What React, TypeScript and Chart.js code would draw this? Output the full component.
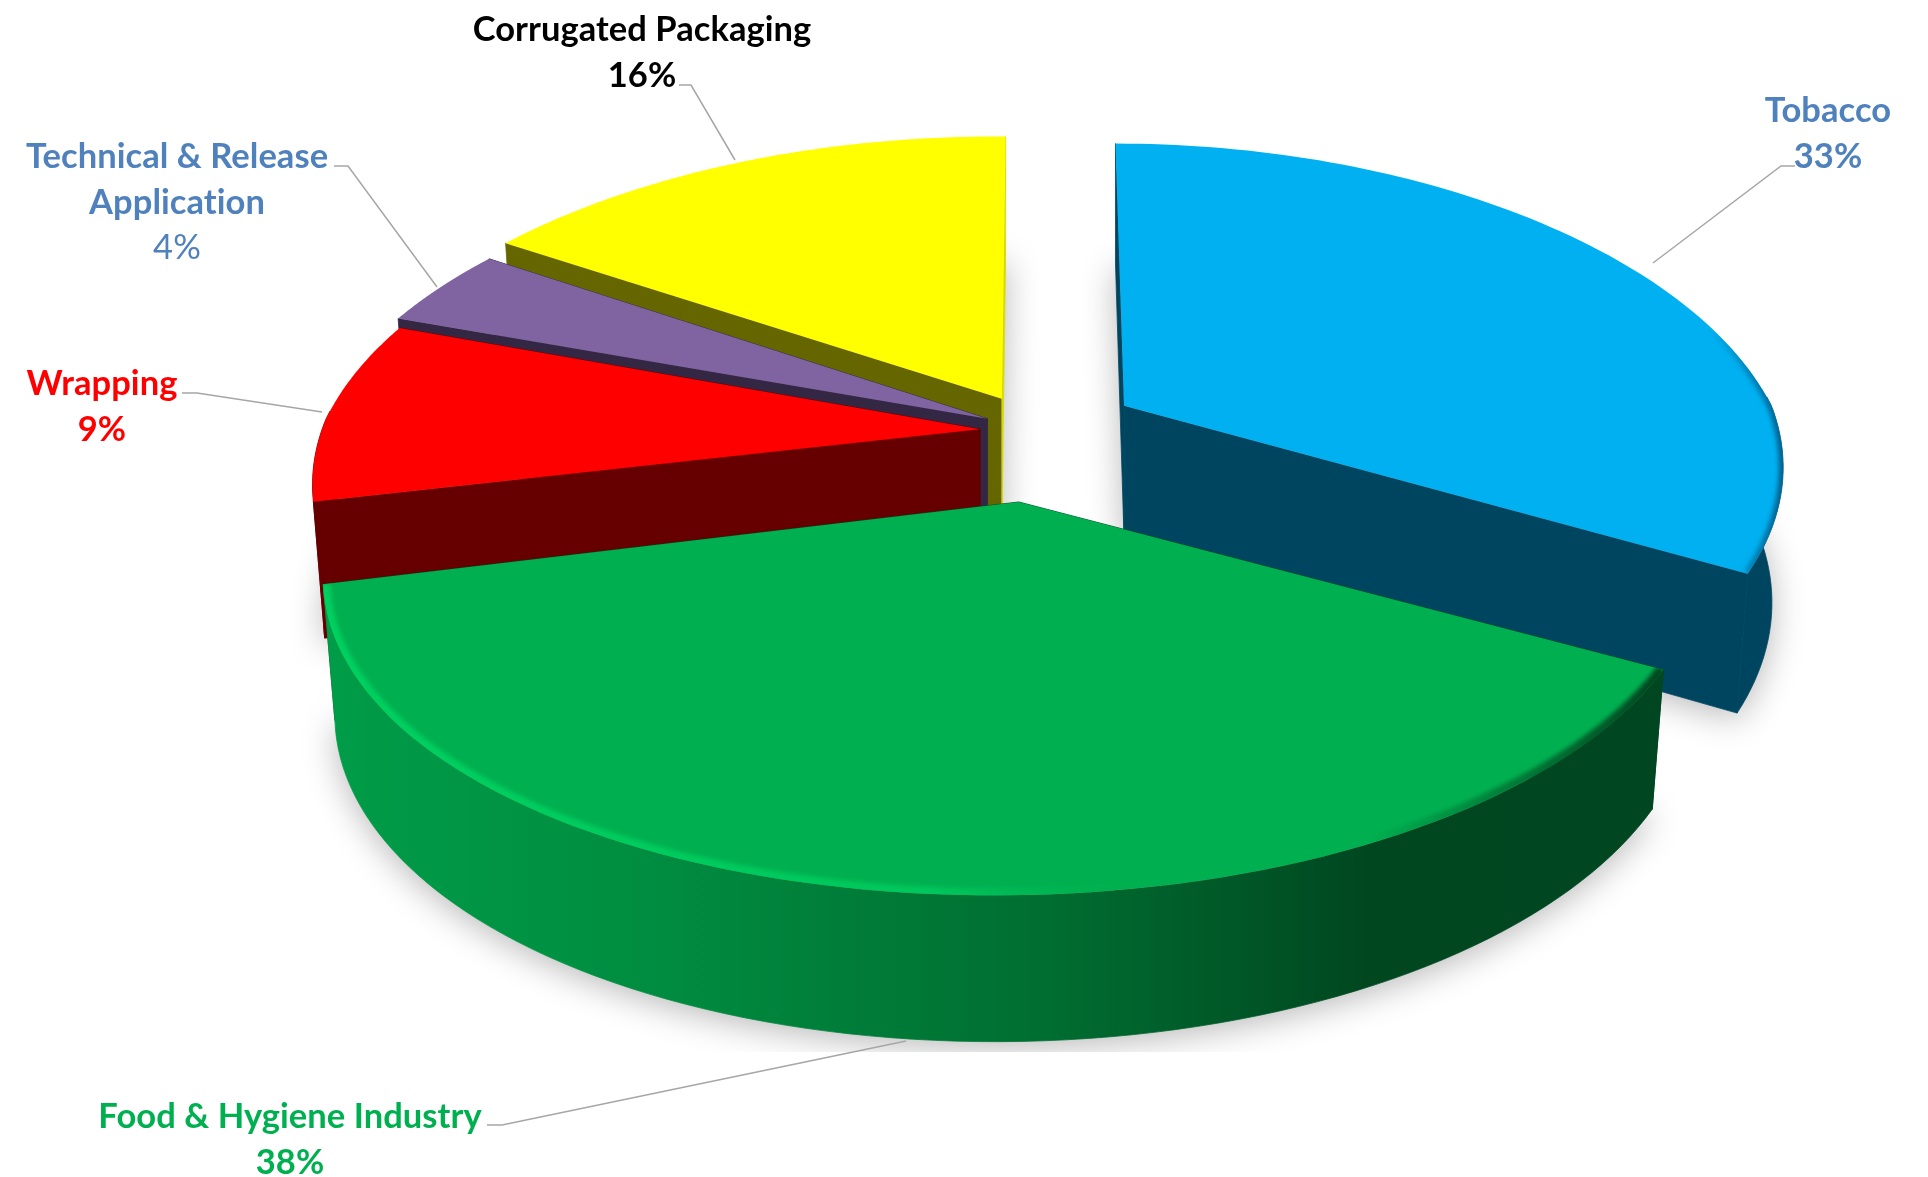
import React, { useEffect, useRef } from "react";
import { Chart, registerables } from "chart.js";

Chart.register(...registerables);

const categories = ["Tobacco", "Food & Hygiene Industry", "Wrapping", "Technical & Release Application", "Corrugated Packaging"];
const shares = [33, 38, 9, 4, 16];
const topColors = ["#00B0F0", "#00B050", "#FF0000", "#8064A2", "#FFFF00"];
const startFaceColors = ["#004560", "#004620", "#660000", "#332744", "#666600"];
const endFaceColors = ["#004560", "#004620", "#660000", "#332744", "#D8D800"];
const explodeOffsets = [100, 153, 58, 56, 75];
const labelColors = ["#4F81BD", "#00B050", "#FF0000", "#4F81BD", "#000000"];
const labelLines = [["Tobacco"], ["Food & Hygiene Industry"], ["Wrapping"], ["Technical & Release", "Application"], ["Corrugated Packaging"]];
const labelCenters = [[1828, 111], [290, 1117], [102, 384], [177, 157], [642, 30]];
const leaderLines = [
  [[1795, 166], [1781, 166], [1653, 263]],
  [[487, 1125], [502, 1125], [906, 1041]],
  [[182, 393], [197, 393], [322, 412]],
  [[334, 166], [348, 166], [437, 287]],
  [[679, 85], [691, 85], [735, 160]],
];
// small per-slice corrections that imitate the reference's perspective
const sliceScale = [0.975, 1.019, 0.985, 1, 1];
const sliceShear = [0, -24, 0, 0, -3.7];
const sliceBend = [-8.6, 0, 0, 0, 0];
const sliceTilt = [0, 0, 10, 9, 4];

const VIEW = { cx: 1038, cy: 430, R: 664, k: 0.474, p: 0.2, back: 0.03, D: 133, pd: 0.1, shrink: 0.017, lineGap: 45.5, fontPx: 34.5 };

function project(i: number, ou: number, ov: number, u: number, v: number, z: number) {
  const s = 1 / (1 - VIEW.p * v);
  const backX = v < 0 ? 1 + VIEW.back * v : 1;
  const lx = VIEW.R * u * s * (1 - VIEW.shrink * z) * sliceScale[i] * backX;
  return {
    x: VIEW.cx + VIEW.R * ou + lx + sliceShear[i] * v + sliceBend[i] * Math.abs(v),
    y: VIEW.cy + VIEW.k * VIEW.R * (ov + v * s) + VIEW.D * z * (1 + VIEW.pd * v) + sliceTilt[i] * u,
  };
}

function trace(ctx: CanvasRenderingContext2D, pts: { x: number; y: number }[]) {
  ctx.beginPath();
  pts.forEach((p, i) => (i ? ctx.lineTo(p.x, p.y) : ctx.moveTo(p.x, p.y)));
  ctx.closePath();
}

function paint(ctx: CanvasRenderingContext2D, pts: { x: number; y: number }[], style: any) {
  trace(ctx, pts);
  ctx.fillStyle = style;
  ctx.strokeStyle = style;
  ctx.lineWidth = 0.8;
  ctx.fill();
  ctx.stroke();
}

const pie3d = {
  id: "pie3d",
  beforeDatasetDraw(chart: any) {
    const ctx: CanvasRenderingContext2D = chart.ctx;
    const meta = chart.getDatasetMeta(0);
    const slices = meta.data.map((el: any, i: number) => {
      const { startAngle, endAngle } = el.getProps(["startAngle", "endAngle"], true);
      const mid = (startAngle + endAngle) / 2;
      const off = el.options.offset / VIEW.R;
      const ou = off * Math.cos(mid);
      const ov = off * Math.sin(mid);
      const n = 90;
      const angles: number[] = [];
      for (let j = 0; j <= n; j++) angles.push(startAngle + ((endAngle - startAngle) * j) / n);
      const arc = (z: number, front = false) =>
        angles
          .filter((a) => !front || Math.sin(a) > -0.03)
          .map((a) => project(i, ou, ov, Math.cos(a), Math.sin(a), z));
      return { i, mid, arc, tip: (z: number) => project(i, ou, ov, 0, 0, z), depth: Math.sin(mid) };
    });

    ctx.save();
    ctx.beginPath();
    ctx.rect(0, 0, 1928, 1052);
    ctx.clip();
    ctx.shadowColor = "rgba(0,0,0,0.28)";
    ctx.shadowBlur = 34;
    ctx.shadowOffsetY = 6;
    ctx.fillStyle = "#ffffff";
    for (const s of slices) {
      trace(ctx, [s.tip(1), ...s.arc(1)]);
      ctx.fill();
    }
    ctx.restore();

    const order = [...slices].sort((a, b) => a.depth - b.depth);
    for (const s of order) {
      const top = s.arc(0);
      const bottom = s.arc(1);
      const t0 = s.tip(0);
      const t1 = s.tip(1);
      const n = top.length - 1;

      paint(ctx, [t0, top[0], bottom[0], t1], startFaceColors[s.i]);
      paint(ctx, [t0, top[n], bottom[n], t1], endFaceColors[s.i]);

      let wall: any = startFaceColors[s.i];
      if (s.i === 1) {
        wall = ctx.createLinearGradient(330, 0, 1660, 0);
        wall.addColorStop(0, "#009C48");
        wall.addColorStop(0.25, "#008C40");
        wall.addColorStop(0.55, "#006C30");
        wall.addColorStop(0.78, "#004720");
        wall.addColorStop(1, "#004620");
      }
      const frontTop = s.arc(0, true);
      const frontBottom = s.arc(1, true);
      if (frontTop.length > 1) paint(ctx, [...frontTop, ...[...frontBottom].reverse()], wall);

      trace(ctx, [t0, ...top]);
      ctx.fillStyle = topColors[s.i];
      ctx.fill();

      if (s.i === 0 || s.i === 1) {
        ctx.save();
        trace(ctx, [t0, ...top]);
        ctx.clip();
        let rim: CanvasGradient;
        if (s.i === 1) {
          rim = ctx.createLinearGradient(330, 0, 1660, 0);
          rim.addColorStop(0, "#00D060");
          rim.addColorStop(0.45, "#00C85C");
          rim.addColorStop(0.62, "rgba(0,176,80,0)");
          rim.addColorStop(0.78, "rgba(0,70,32,0)");
          rim.addColorStop(1, "#004620");
        } else {
          rim = ctx.createLinearGradient(1710, 0, 1790, 0);
          rim.addColorStop(0, "rgba(0,90,136,0)");
          rim.addColorStop(1, "#005A88");
        }
        ctx.strokeStyle = rim;
        ctx.lineWidth = s.i === 1 ? 14 : 9;
        ctx.filter = "blur(2px)";
        ctx.beginPath();
        top.forEach((p: any, j: number) => (j ? ctx.lineTo(p.x, p.y) : ctx.moveTo(p.x, p.y)));
        ctx.stroke();
        ctx.restore();
      }
    }
    return false;
  },
  afterDraw(chart: any) {
    const ctx: any = chart.ctx;
    ctx.save();
    ctx.strokeStyle = "#A6A6A6";
    ctx.lineWidth = 1.5;
    for (const line of leaderLines) {
      ctx.beginPath();
      line.forEach(([x, y], j) => (j ? ctx.lineTo(x, y) : ctx.moveTo(x, y)));
      ctx.stroke();
    }
    ctx.textAlign = "center";
    ctx.textBaseline = "middle";
    ctx.letterSpacing = "0.05px";
    const total = shares.reduce((a, b) => a + b, 0);
    shares.forEach((v, i) => {
      const [x, y] = labelCenters[i];
      ctx.fillStyle = labelColors[i];
      ctx.font = `bold ${VIEW.fontPx}px Lato`;
      labelLines[i].forEach((t, j) => ctx.fillText(t, x, y + j * VIEW.lineGap));
      ctx.font = `${i === 3 ? "" : "bold "}${VIEW.fontPx}px Lato`;
      ctx.fillText(`${Math.round((v / total) * 100)}%`, x, y + labelLines[i].length * VIEW.lineGap);
    });
    ctx.restore();
  },
};

export default function App() {
  const ref = useRef<HTMLCanvasElement>(null);
  useEffect(() => {
    const chart = new Chart(ref.current as HTMLCanvasElement, {
      type: "pie",
      data: {
        labels: categories,
        datasets: [{ data: shares, backgroundColor: topColors, offset: explodeOffsets, borderWidth: 0 }],
      },
      options: {
        animation: false,
        responsive: false,
        devicePixelRatio: 1,
        rotation: 0,
        plugins: { legend: { display: false }, tooltip: { enabled: false } },
      },
      plugins: [pie3d],
    } as any);
    return () => chart.destroy();
  }, []);
  return (
    <canvas
      ref={ref}
      width={1928}
      height={1177}
      style={{ position: "absolute", left: 0, top: 0, width: 1928, height: 1177, display: "block" }}
    />
  );
}
